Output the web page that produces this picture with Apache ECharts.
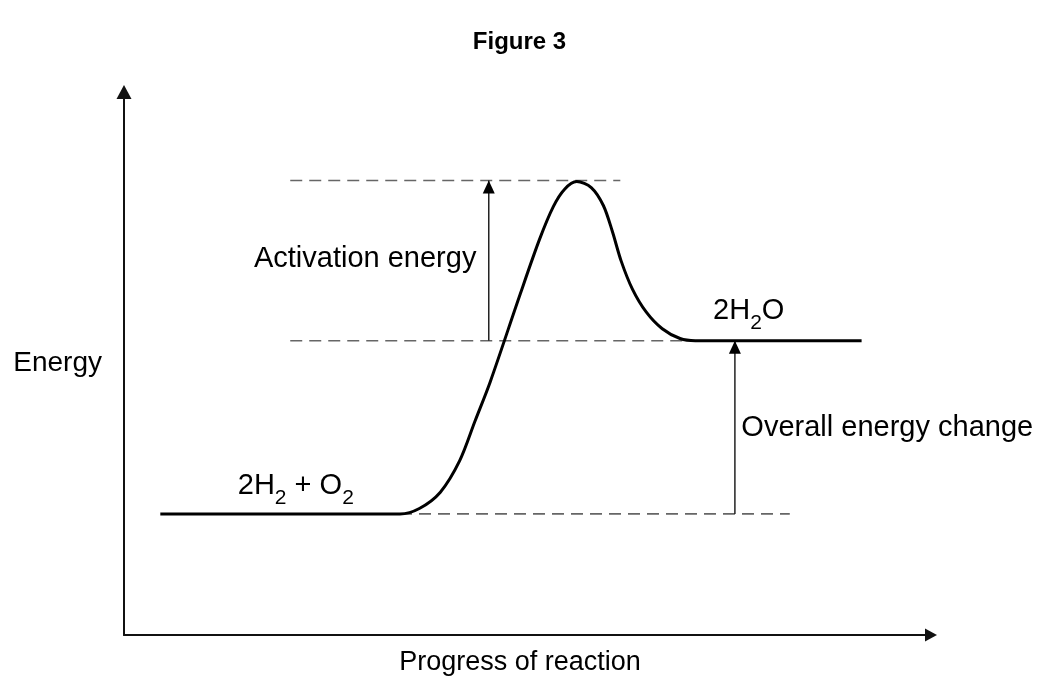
<!DOCTYPE html>
<html>
<head>
<meta charset="utf-8">
<script src="https://cdn.jsdelivr.net/npm/echarts@6/dist/echarts.min.js"></script>
<style>
html,body{margin:0;padding:0;background:#fff;}
#chart{width:1039px;height:681px;}
</style>
</head>
<body>
<div id="chart"></div>
<script>
// ---- data (x: progress of reaction, y: energy; arbitrary units) ----
const titleText = 'Figure 3';
const xAxisName = 'Progress of reaction';
const yAxisName = 'Energy';

const reactantLevel = 22.3;
const productLevel = 54.2;
const peakLevel = 83.7;

const curveX = [4.5, 31.7, 34.2, 36.6, 39.2, 41.6, 43.5, 45.4, 49.1, 51.5, 53.2, 54.6, 56.1, 57.9, 59.4, 60.5, 61.6, 63.0, 64.7, 66.7, 68.9, 70.8, 73.2, 91.4];
const curveY = [22.3, 22.3, 22.3, 23.3, 26.3, 32.1, 39.4, 46.7, 62.8, 72.9, 78.9, 82.1, 83.5, 82.4, 79.1, 74.4, 68.9, 63.7, 59.5, 56.4, 54.6, 54.2, 54.2, 54.2];

// dashed guide lines: [xStart, xEnd, level]
const guideStartX = [20.6, 20.6, 34.2];
const guideEndX = [61.5, 70.1, 82.5];
const guideLevel = [peakLevel, productLevel, reactantLevel];

// arrows: x, from level, to level
const arrowX = [45.2, 75.7];
const arrowFrom = [productLevel, reactantLevel];
const arrowTo = [peakLevel, productLevel];

// annotations
const labelText = ['Activation energy', '2H{s|2}O', 'Overall energy change', '2H{s|2} + O{s|2}'];
const labelX = [16.1, 73.0, 76.5, 14.1];
const labelY = [69.2, 59.6, 38.1, 27.4];

// ---- chart ----
const FONT = "'Liberation Sans', Arial, Helvetica, sans-serif";
const chart = echarts.init(document.getElementById('chart'), null, {renderer: 'canvas'});

const series = [];

series.push({
  type: 'line',
  data: curveX.map((x, i) => [x, curveY[i]]),
  smooth: 0.3,
  symbol: 'none',
  lineStyle: {color: '#000', width: 3},
  z: 5,
  silent: true
});

guideLevel.forEach((lv, i) => {
  series.push({
    type: 'line',
    data: [[guideStartX[i], lv], [guideEndX[i], lv]],
    symbol: 'none',
    lineStyle: {color: '#666', width: 1.6, type: [12, 7]},
    z: 2,
    silent: true
  });
});

arrowX.forEach((x, i) => {
  series.push({
    type: 'line',
    data: [
      {value: [x, arrowFrom[i]], symbol: 'none'},
      {value: [x, arrowTo[i]], symbol: 'triangle', symbolSize: [12, 13], symbolOffset: [0, '50%']}
    ],
    showSymbol: true,
    symbol: 'none',
    itemStyle: {color: '#000'},
    lineStyle: {color: '#222', width: 1.5},
    z: 3,
    silent: true
  });
});

series.push({
  type: 'scatter',
  symbolSize: 0,
  silent: true,
  itemStyle: {opacity: 1},
  data: labelText.map((t, i) => ({
    value: [labelX[i], labelY[i]],
    label: {
      show: true,
      position: 'right',
      distance: 0,
      formatter: t,
      color: '#000',
      opacity: 1,
      fontFamily: FONT,
      fontSize: 29,
      lineHeight: 44,
      rich: {
        s: {fontSize: 21, fontFamily: FONT, color: '#000', verticalAlign: 'bottom'}
      }
    }
  })),
  z: 10
});

chart.setOption({
  animation: false,
  backgroundColor: '#fff',
  title: {
    text: titleText,
    left: 'center',
    top: 25,
    textStyle: {fontFamily: FONT, fontSize: 24, fontWeight: 'bold', color: '#000'}
  },
  grid: {left: 124, right: 108, top: 92, bottom: 43, containLabel: false},
  xAxis: {
    type: 'value',
    min: 0, max: 100,
    name: xAxisName,
    nameLocation: 'middle',
    nameGap: 14,
    nameTextStyle: {fontFamily: FONT, fontSize: 27, color: '#000', verticalAlign: 'top', padding: [0, 15, 0, 0]},
    axisLine: {show: true, lineStyle: {color: '#111', width: 2}, symbol: ['none', 'triangle'], symbolSize: [13, 12]},
    axisTick: {show: false},
    axisLabel: {show: false},
    splitLine: {show: false}
  },
  yAxis: {
    type: 'value',
    min: 0, max: 100,
    name: yAxisName,
    nameLocation: 'middle',
    nameRotate: 0,
    nameGap: 22,
    nameTextStyle: {fontFamily: FONT, fontSize: 28, color: '#000', align: 'right', padding: [0, 0, 10, 0]},
    axisLine: {show: true, lineStyle: {color: '#111', width: 2}, symbol: ['none', 'triangle'], symbolSize: [15, 14]},
    axisTick: {show: false},
    axisLabel: {show: false},
    splitLine: {show: false}
  },
  series: series
});
</script>
</body>
</html>
